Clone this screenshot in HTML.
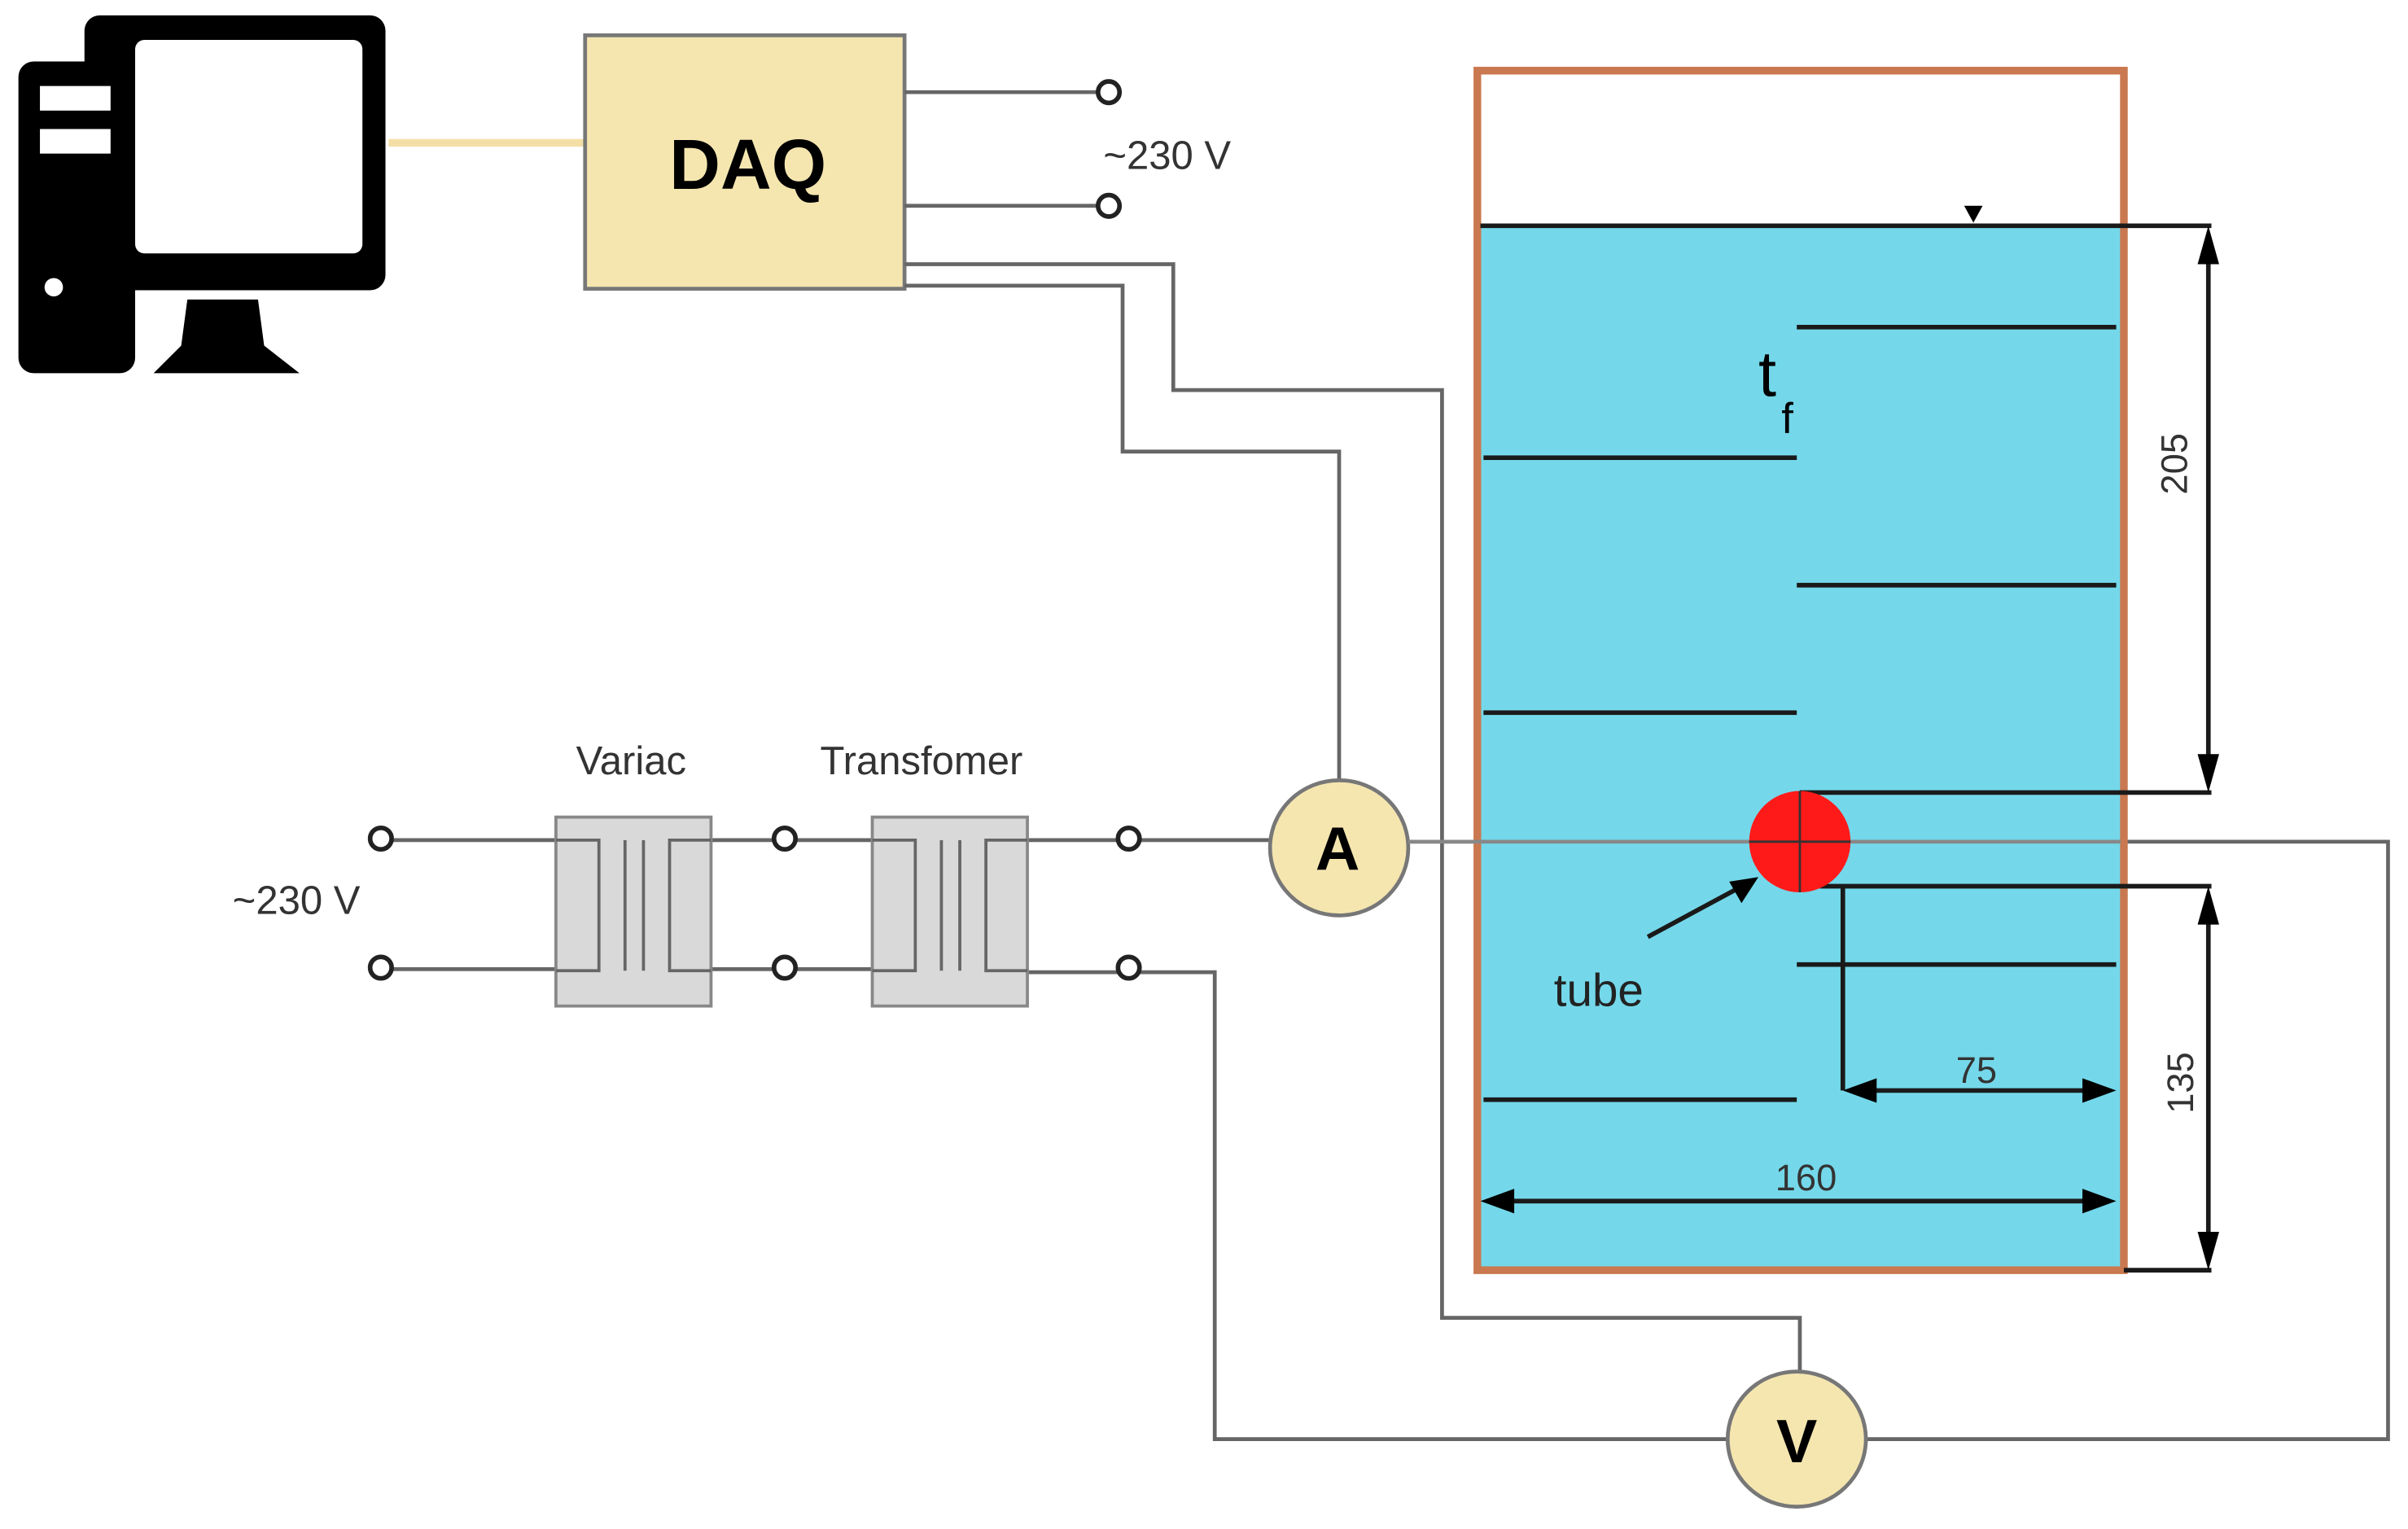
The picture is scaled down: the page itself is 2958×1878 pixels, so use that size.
<!DOCTYPE html>
<html><head><meta charset="utf-8"><style>html,body{margin:0;padding:0;background:#fff}svg{display:block}</style></head>
<body>
<svg width="2958" height="1878" viewBox="0 0 1568 995.5" preserveAspectRatio="none" xmlns="http://www.w3.org/2000/svg" font-family="Liberation Sans, sans-serif">
<!-- computer -->
<rect x="55" y="10" width="196" height="179" rx="10" fill="#000"/>
<rect x="88" y="26" width="148" height="139" rx="6" fill="#fff"/>
<rect x="12" y="40" width="76" height="203" rx="10" fill="#000"/>
<rect x="26" y="56" width="46" height="16" fill="#fff"/>
<rect x="26" y="84" width="46" height="16" fill="#fff"/>
<circle cx="35" cy="187" r="6" fill="#fff"/>
<polygon points="122,195 168,195 172,225 195,243 100,243 118,225" fill="#000"/>
<line x1="253" y1="93" x2="380" y2="93" stroke="#f3dfa6" stroke-width="5"/>
<!-- DAQ -->
<rect x="381" y="23" width="208" height="165" fill="#f5e6b0" stroke="#777" stroke-width="2.5"/>
<text x="487" y="123" font-size="46" font-weight="bold" text-anchor="middle">DAQ</text>
<g stroke="#666" stroke-width="2.5" fill="none">
<line x1="589" y1="60" x2="715" y2="60"/><line x1="589" y1="134" x2="715" y2="134"/>
<polyline points="589,172 764,172 764,254 939,254 939,858 1172,858 1172,893"/>
<polyline points="589,186 731,186 731,294 872,294 872,508"/>
<line x1="254" y1="547" x2="380" y2="547"/><line x1="254" y1="631" x2="380" y2="631"/>
<line x1="445" y1="547" x2="504" y2="547"/><line x1="445" y1="631" x2="504" y2="631"/>
<line x1="518" y1="547" x2="585" y2="547"/><line x1="518" y1="631" x2="585" y2="631"/>
<line x1="645" y1="547" x2="728" y2="547"/><line x1="645" y1="633" x2="728" y2="633"/>
<line x1="742" y1="547" x2="827" y2="547"/>
<polyline points="742,633 791,633 791,937 1125,937"/>
<polyline points="917,548 1555,548 1555,937 1215,937"/>
</g>
<g fill="#fff" stroke="#222" stroke-width="3">
<circle cx="722" cy="60" r="7"/><circle cx="722" cy="134" r="7"/>
<circle cx="248" cy="546" r="7"/><circle cx="248" cy="630" r="7"/>
<circle cx="511" cy="546" r="7"/><circle cx="511" cy="630" r="7"/>
<circle cx="735" cy="546" r="7"/><circle cx="735" cy="630" r="7"/>
</g>
<text x="760" y="110" font-size="26" text-anchor="middle" fill="#333">~230 V</text>
<text x="193" y="595" font-size="26" text-anchor="middle" fill="#333">~230 V</text>
<text x="411" y="504" font-size="26" text-anchor="middle" fill="#333">Variac</text>
<text x="600" y="504" font-size="26" text-anchor="middle" fill="#333">Transfomer</text>
<!-- variac & transformer -->
<g>
<rect x="362" y="532" width="101" height="123" fill="#d9d9d9" stroke="#888" stroke-width="2"/>
<polyline points="362,547 390,547 390,632 362,632" fill="none" stroke="#666" stroke-width="2"/>
<polyline points="463,547 436,547 436,632 463,632" fill="none" stroke="#666" stroke-width="2"/>
<line x1="407" y1="547" x2="407" y2="632" stroke="#666" stroke-width="2"/>
<line x1="419" y1="547" x2="419" y2="632" stroke="#666" stroke-width="2"/>
<rect x="568" y="532" width="101" height="123" fill="#d9d9d9" stroke="#888" stroke-width="2"/>
<polyline points="568,547 596,547 596,632 568,632" fill="none" stroke="#666" stroke-width="2"/>
<polyline points="669,547 642,547 642,632 669,632" fill="none" stroke="#666" stroke-width="2"/>
<line x1="613" y1="547" x2="613" y2="632" stroke="#666" stroke-width="2"/>
<line x1="625" y1="547" x2="625" y2="632" stroke="#666" stroke-width="2"/>
</g>
<!-- meters -->
<ellipse cx="872" cy="552" rx="45" ry="44" fill="#f5e6b0" stroke="#777" stroke-width="2.5"/>
<text x="871" y="566" font-size="40" font-weight="bold" text-anchor="middle">A</text>
<ellipse cx="1170" cy="937" rx="45" ry="44" fill="#f5e6b0" stroke="#777" stroke-width="2.5"/>
<text x="1170" y="952" font-size="40" font-weight="bold" text-anchor="middle">V</text>
<!-- tank -->
<rect x="964" y="147" width="417" height="678" fill="#74d8ea"/>
<rect x="962" y="46" width="421" height="781" fill="none" stroke="#c9784f" stroke-width="5"/>
<line x1="917" y1="548" x2="1381" y2="548" stroke="#888" stroke-width="2.5"/>
<g stroke="#1a1a1a" stroke-width="3">
<line x1="964" y1="147" x2="1440" y2="147"/>
<line x1="1170" y1="213" x2="1378" y2="213"/>
<line x1="966" y1="298" x2="1170" y2="298"/>
<line x1="1170" y1="381" x2="1378" y2="381"/>
<line x1="966" y1="464" x2="1170" y2="464"/>
<line x1="1172" y1="516" x2="1440" y2="516"/>
<line x1="1185" y1="577" x2="1440" y2="577"/>
<line x1="1170" y1="628" x2="1378" y2="628"/>
<line x1="966" y1="716" x2="1170" y2="716"/>
<line x1="1383" y1="827" x2="1440" y2="827"/>
<line x1="1438" y1="160" x2="1438" y2="505"/>
<line x1="1438" y1="590" x2="1438" y2="815"/>
<line x1="1200" y1="577" x2="1200" y2="710"/>
<line x1="1210" y1="710" x2="1370" y2="710"/>
<line x1="975" y1="782" x2="1370" y2="782"/>
<line x1="1073" y1="610" x2="1138" y2="575"/>
</g>
<g fill="#000">
<polygon points="1279,134 1291,134 1285,145"/>
<polygon points="1438,147 1431,172 1445,172"/><polygon points="1438,516 1431,491 1445,491"/>
<polygon points="1438,577 1431,602 1445,602"/><polygon points="1438,827 1431,802 1445,802"/>
<polygon points="1200,710 1222,702 1222,718"/><polygon points="1378,710 1356,702 1356,718"/>
<polygon points="964,782 986,774 986,790"/><polygon points="1378,782 1356,774 1356,790"/>
<polygon points="1145,571 1126,574 1134,588"/>
</g>
<circle cx="1172" cy="548" r="33" fill="#ff1a1a"/>
<line x1="1139" y1="548" x2="1205" y2="548" stroke="#333" stroke-width="1.5"/>
<line x1="1172" y1="515" x2="1172" y2="581" stroke="#333" stroke-width="1.5"/>
<text x="1145" y="258" font-size="42">t</text>
<text x="1160" y="282" font-size="28">f</text>
<text x="1041" y="655" font-size="30" text-anchor="middle" fill="#222">tube</text>
<text x="1287" y="705" font-size="24" text-anchor="middle" fill="#333">75</text>
<text x="1176" y="775" font-size="24" text-anchor="middle" fill="#333">160</text>
<text transform="translate(1424,302) rotate(-90)" font-size="24" text-anchor="middle" fill="#333">205</text>
<text transform="translate(1428,705) rotate(-90)" font-size="24" text-anchor="middle" fill="#333">135</text>
</svg>
</body></html>
